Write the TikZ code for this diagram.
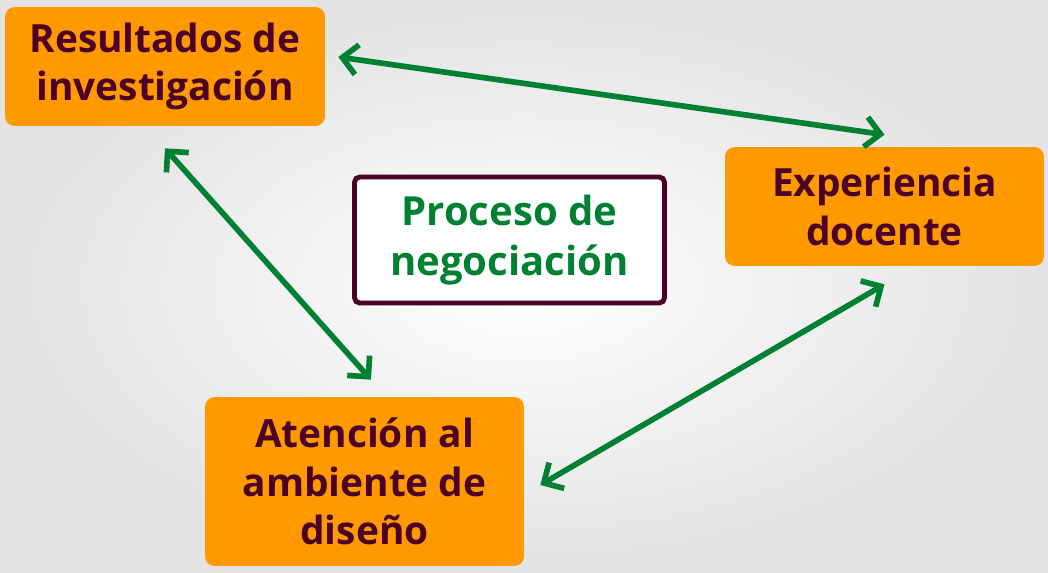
\documentclass[tikz,border=0pt]{standalone}
\usepackage{fontspec}
\setmainfont{Open Sans}
\usetikzlibrary{arrows.meta}

\definecolor{boxorange}{RGB}{255,153,0}
\definecolor{wine}{RGB}{77,0,38}
\definecolor{leafgreen}{RGB}{0,128,51}

\begin{document}
\begin{tikzpicture}[
        x = 0.02cm, y = -0.02cm, % one unit is one pixel of the slide
        idea/.style = {fill=boxorange, rounded corners=5.5pt, text=wine,
                       font=\fontsize{22.1}{27.6}\selectfont\bfseries,
                       align=center, inner sep=0pt},
        core/.style = {draw=wine, line width=2.8pt, fill=white, rounded corners=3pt,
                       text=leafgreen, font=\fontsize{22.8}{28.6}\selectfont\bfseries,
                       align=center, inner sep=0pt},
        link/.style = {draw=leafgreen, line width=3.2pt,
                       {Straight Barb[length=8.5pt,width=17pt,sharp]}-{Straight Barb[length=8.5pt,width=17pt,sharp]}}
        ]

  % slide background
  \shade[shading=radial, inner color=white, outer color=black!11]
        (0,0) rectangle (1048,572);
  \useasboundingbox (0,0) rectangle (1048,572);

  \node[idea, minimum width=6.4cm, minimum height=2.38cm] (res) at (165,66.5)
        {Resultados de\\investigación};
  \node[idea, minimum width=6.38cm, minimum height=2.38cm] (exp) at (884.5,206.5)
        {Experiencia\\docente};
  \node[idea, minimum width=6.38cm, minimum height=3.38cm] (ate) at (364.5,481.5)
        {Atención al\\ambiente de\\diseño};
  \node[core, minimum width=6.2cm, minimum height=2.52cm] (neg) at (509.5,240)
        {Proceso de\\negociación};

  \draw[link] ([xshift=0.26cm, yshift=0.19cm]res.east) -- ([yshift=0.24cm]exp.north);
  \draw[link] ([yshift=-0.44cm]res.south) -- ([xshift=0.13cm, yshift=0.34cm]ate.north);
  \draw[link] ([xshift=0.32cm, yshift=-0.07cm]ate.east) -- ([yshift=-0.36cm]exp.south);

\end{tikzpicture}
\end{document}
